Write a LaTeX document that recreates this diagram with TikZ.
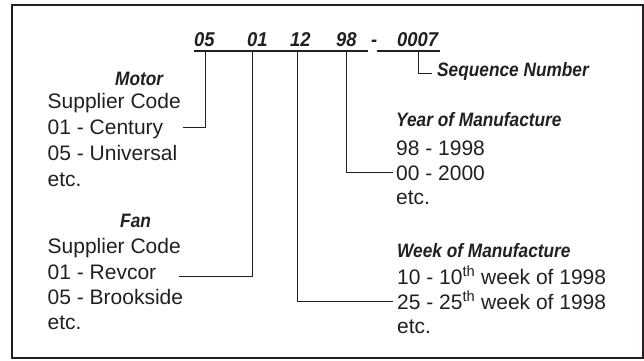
\documentclass[tikz,border=0pt]{standalone}
\usepackage{fontspec}
\usepackage{graphicx}
\setmainfont{Liberation Sans}
\definecolor{ink}{RGB}{35,31,32}
\newcommand{\hdtext}[1]{\scalebox{0.89}[1]{#1}}
\newcommand{\numtext}[1]{\scalebox{0.92}[1]{#1}}
\begin{document}
\begin{tikzpicture}[x=1pt,y=-1pt,
  body/.style={anchor=base west,inner sep=0pt,text=ink,font=\fontsize{21}{25}\selectfont},
  head/.style={anchor=base west,inner sep=0pt,text=ink,font=\fontsize{19.4}{22}\selectfont\bfseries\itshape},
  num/.style={anchor=base west,inner sep=0pt,text=ink,font=\fontsize{20}{23}\selectfont\bfseries\itshape},
  conn/.style={draw=ink,line width=1pt},
  uline/.style={draw=ink,line width=1.3pt},
  frame/.style={draw=ink,line width=1.3pt}]
\useasboundingbox (0,0) rectangle (644,360);
\draw[frame] (12,5) rectangle (643,358);
% code number
\node[num] (n05) at (194,46.7) {\numtext{05}};
\node[num] (n01) at (247,46.7) {\numtext{01}};
\node[num] (n12) at (290,46.7) {\numtext{12}};
\node[num] (n98) at (336,46.7) {\numtext{98}};
\node[num] (ndash) at (371,46.7) {\numtext{-}};
\node[num] (n0007) at (397,46.7) {\numtext{0007}};
\coordinate (ulA) at (194,51); \coordinate (ulB) at (368.3,51);
\coordinate (ulC) at (376.7,51); \coordinate (ulD) at (440,51);
\draw[uline] (ulA) -- (ulB);
\draw[uline] (ulC) -- (ulD);
% Motor
\node[head] (motorh) at (115,85) {\hdtext{Motor}};
\node[body] (motor1) at (47.5,108.7) {Supplier Code};
\node[body] (motor2) at (47.5,134.5) {01 - Century};
\node[body] (motor3) at (47.5,160.3) {05 - Universal};
\node[body] (motor4) at (47.5,186.1) {etc.};
% Fan
\node[head] (fanh) at (120,227.3) {\hdtext{Fan}};
\node[body] (fan1) at (47.5,253.3) {Supplier Code};
\node[body] (fan2) at (47.5,279.3) {01 - Revcor};
\node[body] (fan3) at (47.5,304.5) {05 - Brookside};
\node[body] (fan4) at (47.5,329.5) {etc.};
% Year
\node[head] (yearh) at (396,126.7) {\hdtext{Year of Manufacture}};
\node[body] (year1) at (396,155) {98 - 1998};
\node[body] (year2) at (396,180) {00 - 2000};
\node[body] (year3) at (396,204.5) {etc.};
% Week
\node[head] (weekh) at (397,257.3) {\hdtext{Week of Manufacture}};
\node[body] (week1) at (397,284.3) {10 - 10\textsuperscript{th} week of 1998};
\node[body] (week2) at (397,309.3) {25 - 25\textsuperscript{th} week of 1998};
\node[body] (week3) at (397,333.3) {etc.};
% Sequence
\node[head] (seq) at (437,76) {\hdtext{Sequence Number}};
% connectors
\coordinate (c05) at (205,51);   \coordinate (e05) at (183,127.7);
\coordinate (c01) at (252.3,51); \coordinate (e01) at (179,276);
\coordinate (c12) at (297.3,51); \coordinate (e12) at (393,301);
\coordinate (c98) at (346.7,51); \coordinate (e98) at (393,172.7);
\coordinate (c07) at (418,51);   \coordinate (e07) at (432,73.3);
\draw[conn] (c05) |- (e05);
\draw[conn] (c01) |- (e01);
\draw[conn] (c12) |- (e12);
\draw[conn] (c98) |- (e98);
\draw[conn] (c07) |- (e07);
\end{tikzpicture}
\end{document}
